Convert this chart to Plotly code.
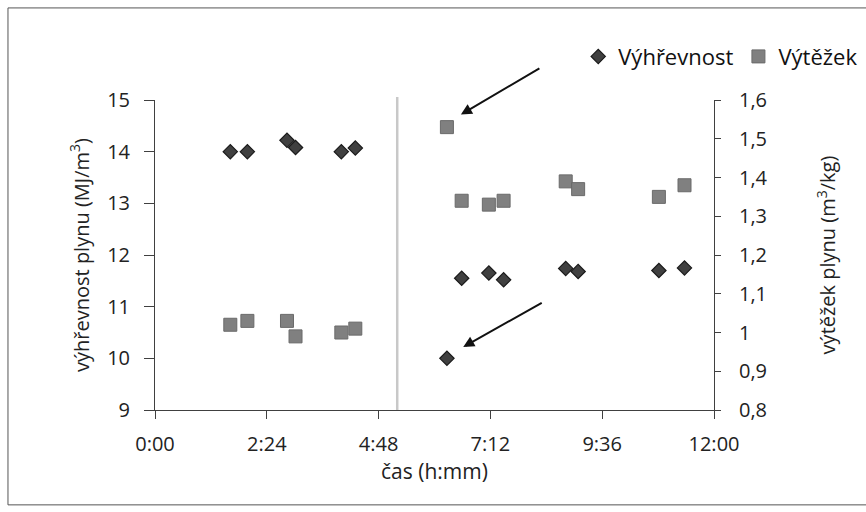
import plotly.graph_objects as go

# Sampling times (h:mm) shared by both measured quantities
times = ["1:37", "1:59", "2:50", "3:01", "4:00", "4:18",
         "6:16", "6:35", "7:10", "7:29", "8:49", "9:05", "10:49", "11:22"]

# Heating value of the gas, MJ/m3 (left axis)
vyhrevnost = [14.0, 14.0, 14.22, 14.08, 14.0, 14.07,
              10.0, 11.55, 11.65, 11.52, 11.74, 11.68, 11.70, 11.75]

# Gas yield, m3/kg (right axis)
vytezek = [1.02, 1.03, 1.03, 0.99, 1.00, 1.01,
           1.53, 1.34, 1.33, 1.34, 1.39, 1.37, 1.35, 1.38]

# x-axis ticks every 2:24 (0.1 day)
x_tick_hours = [0, 2.4, 4.8, 7.2, 9.6, 12]
x_tick_text = ["0:00", "2:24", "4:48", "7:12", "9:36", "12:00"]

# time of the process change marked by the vertical line
break_time = "5:12"


def to_hours(s):
    h, m = s.split(":")
    return int(h) + int(m) / 60.0


hours = [to_hours(t) for t in times]
FONT = "Open Sans"
AXIS = "#404040"

fig = go.Figure()
fig.add_trace(go.Scatter(
    x=hours, y=vyhrevnost, mode="markers", name="Výhřevnost",
    marker=dict(symbol="diamond", size=11, color="#404040",
                line=dict(color="#1a1a1a", width=1.2)),
    yaxis="y",
))
fig.add_trace(go.Scatter(
    x=hours, y=vytezek, mode="markers", name="Výtěžek",
    marker=dict(symbol="square", size=13, color="#808080",
                line=dict(color="#6a6a6a", width=1)),
    yaxis="y2",
))

# arrows pointing at the two outlying samples (first sample after the change)
first_after = hours.index(min(h for h in hours if h > to_hours(break_time)))
fig.add_annotation(x=hours[first_after] + 0.3, y=vyhrevnost[first_after] + 4.72,
                   ax=80, ay=-47, showarrow=True, arrowhead=2, arrowsize=1.1,
                   arrowwidth=2, arrowcolor="#111111", text="")
fig.add_annotation(x=hours[first_after] + 0.35, y=vyhrevnost[first_after] + 0.22,
                   ax=80, ay=-45, showarrow=True, arrowhead=2, arrowsize=1.1,
                   arrowwidth=2, arrowcolor="#111111", text="")

# vertical separator
fig.add_shape(type="line", xref="x", yref="paper",
              x0=to_hours(break_time), x1=to_hours(break_time), y0=0, y1=1.01,
              line=dict(color="#c8c8c8", width=2.5))

# chart frame
fig.add_shape(type="rect", xref="paper", yref="paper",
              x0=-0.263, x1=1.34, y0=-0.306, y1=1.297,
              line=dict(color="#555555", width=1))

fig.update_layout(
    width=866, height=512,
    margin=dict(l=155, r=152, t=100, b=102, autoexpand=False),
    paper_bgcolor="white", plot_bgcolor="white",
    separators=", ",
    font=dict(family=FONT, size=20, color="#222222"),
    showlegend=True,
    legend=dict(orientation="h", x=1.267, xanchor="right", y=1.14, yanchor="middle",
                font=dict(size=22, color="#111111"), itemwidth=30,
                bgcolor="rgba(0,0,0,0)", tracegroupgap=0),
    xaxis=dict(
        range=[0, 12], tickvals=x_tick_hours, ticktext=x_tick_text, automargin=False,
        showgrid=False, zeroline=False, showline=True, linecolor=AXIS, linewidth=1,
        ticks="outside", ticklen=8, tickcolor=AXIS, ticklabelstandoff=8,
        title=dict(text="čas (h:mm)", standoff=5, font=dict(size=21)),
    ),
    yaxis=dict(
        range=[9, 15], dtick=1, tick0=9, automargin=False,
        showgrid=False, zeroline=False, showline=True, linecolor=AXIS, linewidth=1,
        ticks="outside", ticklen=10, tickcolor=AXIS, ticklabelstandoff=10,
        title=dict(text="výhřevnost plynu (MJ/m<sup>3</sup>)", standoff=12, font=dict(size=20)),
    ),
    yaxis2=dict(
        range=[0.8, 1.6], dtick=0.1, tick0=0.8, overlaying="y", side="right",
        anchor="x", automargin=False,
        showgrid=False, zeroline=False, showline=True, linecolor=AXIS, linewidth=1,
        ticks="outside", ticklen=6, tickcolor=AXIS, ticklabelstandoff=14,
        title=dict(text="výtěžek plynu (m<sup>3</sup>/kg)", standoff=54, font=dict(size=20)),
    ),
    yaxis3=dict(
        range=[0.8, 1.6], dtick=0.1, tick0=0.8, overlaying="y", side="right",
        anchor="x", automargin=False, showticklabels=False, showgrid=False,
        zeroline=False, showline=False, ticks="inside", ticklen=6, tickcolor=AXIS,
    ),
)

fig.write_html("out.html")
